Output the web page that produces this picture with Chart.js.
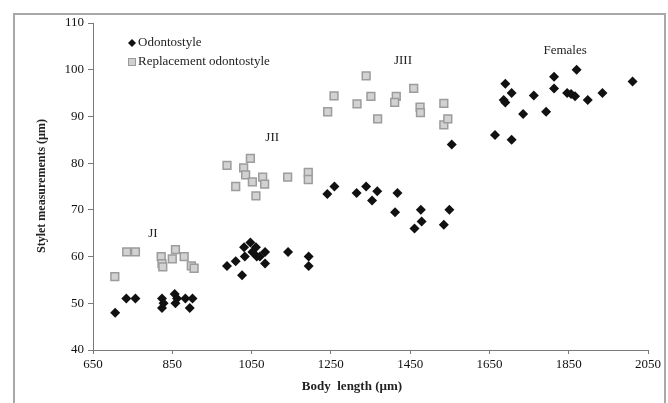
<!DOCTYPE html>
<html>
<head>
<meta charset="utf-8">
<script src="https://cdn.jsdelivr.net/npm/chart.js@4"></script>
<style>
  html, body { margin: 0; padding: 0; background: #fff; }
  #wrap { width: 668px; height: 403px; }
</style>
</head>
<body>
<div id="wrap"><canvas id="styletChart" width="668" height="403"></canvas></div>
<script>
const odontostyleLength = [
  706, 734, 757, 824, 824, 828, 856, 858, 862, 883, 901, 894,
  988, 1010, 1026, 1033, 1031, 1047, 1052, 1061, 1063, 1071, 1084, 1084, 1142, 1194, 1194,
  1241, 1259, 1315, 1339, 1367, 1354, 1418, 1412, 1477, 1479, 1461, 1549, 1535, 1555,
  1664, 1706, 1690, 1706, 1686, 1690, 1735, 1762, 1793, 1813, 1813, 1846, 1856, 1866, 1870, 1898, 1935, 2011
];
const odontostyleStylet = [
  48, 51, 51, 51, 49, 50, 52, 50, 51, 51, 51, 49,
  58, 59, 56, 60, 62, 63, 61, 62, 60, 60, 61, 58.5, 61, 60, 58,
  73.4, 75, 73.6, 75, 74, 72, 73.6, 69.5, 70, 67.5, 66, 70, 66.8, 84,
  86, 85, 97, 95, 93.5, 93, 90.5, 94.5, 91, 98.5, 96, 95, 94.8, 94.3, 100, 93.5, 95, 97.5
];
const replacementLength = [
  705, 735, 757, 822, 824, 826, 850, 858, 880, 898, 905,
  988, 1030, 1035, 1047, 1010, 1052, 1078, 1083, 1061, 1141, 1193, 1193,
  1242, 1258, 1316, 1339, 1351, 1368, 1415, 1411, 1459, 1475, 1476, 1535, 1535, 1545
];
const replacementStylet = [
  55.7, 61, 61, 60, 58.5, 57.8, 59.5, 61.5, 60, 58, 57.5,
  79.5, 79, 77.5, 81, 75, 76, 77, 75.5, 73, 77, 78, 76.5,
  91, 94.4, 92.7, 98.7, 94.3, 89.5, 94.3, 93, 96, 92, 90.8, 92.8, 88.2, 89.5
];
const xTicks = [650, 850, 1050, 1250, 1450, 1650, 1850, 2050];
const yTicks = [40, 50, 60, 70, 80, 90, 100, 110];
const stageNames = ['JI', 'JII', 'JIII', 'Females'];
const stageLabelX = [801, 1102, 1432, 1841];
const stageLabelY = [65, 85.4, 101.9, 104.1];
const seriesNames = ['Odontostyle', 'Replacement odontostyle'];

const SERIF = '"Liberation Serif", "DejaVu Serif", serif';

function toPoints(xs, ys) {
  return xs.map((x, i) => ({ x: x, y: ys[i] }));
}

// frame, stage labels, legend and axis titles
const decorPlugin = {
  id: 'decor',
  beforeDraw(chart) {
    const ctx = chart.ctx;
    ctx.save();
    ctx.strokeStyle = '#a8a8a8';
    ctx.lineWidth = 2;
    ctx.strokeRect(14, 14, 651, 400);
    ctx.restore();
  },
  afterDraw(chart) {
    const ctx = chart.ctx;
    const xs = chart.scales.x, ys = chart.scales.y;
    ctx.save();
    ctx.fillStyle = '#222';
    ctx.textAlign = 'center';
    ctx.textBaseline = 'middle';
    ctx.font = '13px ' + SERIF;
    stageNames.forEach((name, i) => {
      ctx.fillText(name, xs.getPixelForValue(stageLabelX[i]), ys.getPixelForValue(stageLabelY[i]));
    });

    // legend
    ctx.textAlign = 'left';
    ctx.font = '13px ' + SERIF;
    ctx.fillStyle = '#111';
    ctx.beginPath();
    ctx.moveTo(132, 39); ctx.lineTo(136, 43); ctx.lineTo(132, 47); ctx.lineTo(128, 43);
    ctx.closePath();
    ctx.fill();
    ctx.fillStyle = '#222';
    ctx.fillText(seriesNames[0], 138, 43);
    ctx.fillStyle = '#cfcfcf';
    ctx.strokeStyle = '#9a9a9a';
    ctx.lineWidth = 1;
    ctx.fillRect(128.5, 58.5, 7, 7);
    ctx.strokeRect(128.5, 58.5, 7, 7);
    ctx.fillStyle = '#222';
    ctx.fillText(seriesNames[1], 138, 62);

    // axis titles
    ctx.font = 'bold 13px ' + SERIF;
    ctx.textAlign = 'center';
    ctx.fillText('Body  length (\u00b5m)', 352, 387);
    ctx.translate(42, 186);
    ctx.rotate(-Math.PI / 2);
    ctx.font = 'bold 12px ' + SERIF;
    ctx.fillText('Stylet measurements (\u00b5m)', 0, 0);
    ctx.restore();
  }
};

new Chart(document.getElementById('styletChart'), {
  type: 'scatter',
  data: {
    datasets: [{
      label: seriesNames[1],
      data: toPoints(replacementLength, replacementStylet),
      pointStyle: 'rect',
      pointRadius: 5.5,
      backgroundColor: '#d2d2d2',
      borderColor: '#9c9c9c',
      borderWidth: 1.5
    }, {
      label: seriesNames[0],
      data: toPoints(odontostyleLength, odontostyleStylet),
      pointStyle: 'rectRot',
      pointRadius: 5,
      backgroundColor: '#111',
      borderColor: '#111',
      borderWidth: 0
    }]
  },
  plugins: [decorPlugin],
  options: {
    responsive: false,
    devicePixelRatio: 1,
    animation: false,
    layout: { padding: { left: 0, top: 23, right: 20, bottom: 0 } },
    plugins: { legend: { display: false }, tooltip: { enabled: false } },
    scales: {
      x: {
        type: 'linear',
        min: 650, max: 2050,
        afterBuildTicks: s => { s.ticks = xTicks.map(v => ({ value: v })); },
        afterFit: s => { s.height = 53; },
        grid: { drawOnChartArea: false, drawTicks: true, tickLength: 4, color: '#7a7a7a' },
        border: { display: true, color: '#7a7a7a', width: 1 },
        ticks: { color: '#111', padding: 3, font: { family: SERIF, size: 13 }, maxRotation: 0,
                 callback: v => String(v) }
      },
      y: {
        type: 'linear',
        min: 40, max: 110,
        afterBuildTicks: s => { s.ticks = yTicks.map(v => ({ value: v })); },
        afterFit: s => { s.width = 93; },
        grid: { drawOnChartArea: false, drawTicks: true, tickLength: 5, color: '#7a7a7a' },
        border: { display: true, color: '#7a7a7a', width: 1 },
        ticks: { color: '#111', padding: 4, font: { family: SERIF, size: 13 },
                 callback: v => String(v) }
      }
    }
  }
});
</script>
</body>
</html>
